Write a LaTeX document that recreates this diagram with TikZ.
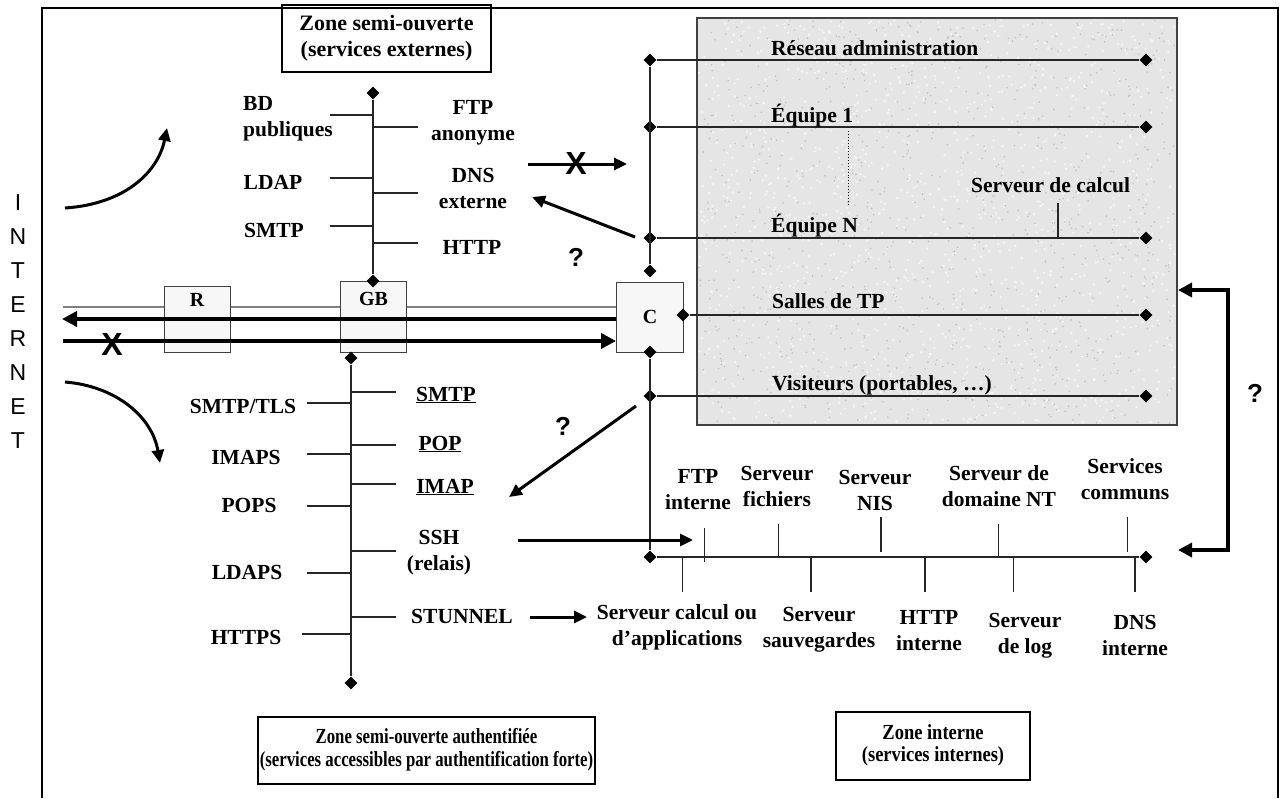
\documentclass[tikz,border=0pt]{standalone}
\usepackage{fontspec}
\setmainfont{Liberation Serif}
\setsansfont{Liberation Sans}
\usetikzlibrary{arrows.meta,shapes.geometric}
\begin{document}
\begin{tikzpicture}[x=1pt,y=-1pt,
  lbl/.style={font=\fontsize{21.5}{26}\selectfont\bfseries, align=center, inner sep=0pt},
  lbll/.style={font=\fontsize{21.5}{26}\selectfont\bfseries, align=left, inner sep=0pt},
  zonebox/.style={draw, line width=1.2pt, font=\fontsize{22}{26}\selectfont\bfseries, align=center, inner sep=0pt},
  zoneboxs/.style={draw, line width=1.2pt, font=\fontsize{21.5}{22.5}\selectfont\bfseries, inner sep=0pt},
  dia/.style={diamond, fill=black, inner sep=0pt, minimum size=13pt},
  busline/.style={line width=1.1pt, black!85},
  bigarrow/.style={line width=3.6pt, -{Triangle[length=15pt,width=15pt]}},
  midarrow/.style={line width=3pt, -{Triangle[length=13pt,width=12pt]}},
  devbox/.style={draw=black!75, fill=black!3, line width=1pt, inner sep=0pt, font=\fontsize{20}{22}\selectfont\bfseries},
  qmark/.style={font=\sffamily\bfseries\fontsize{26}{26}\selectfont, inner sep=0pt},
  xmark/.style={font=\sffamily\bfseries\fontsize{32}{32}\selectfont, inner sep=0pt},
]
\useasboundingbox (0,0) rectangle (1285,798);
\fill[white] (0,0) rectangle (1285,798);

% outer frame
\draw[line width=1.3pt] (42,798) -- (42,8) -- (1278,8) -- (1278,798);

% INTERNET
\node[font=\sffamily\fontsize{23}{34}\selectfont, align=center, inner sep=0pt] (internet) at (18,322) {I\\N\\T\\E\\R\\N\\E\\T};

% textured internal box
\fill[black!10] (697,18) rectangle (1177,425);
\pgfmathsetseed{7}
\foreach \i in {1,...,1400} {
  \fill[white, opacity=0.55] ({697+2+rnd*476},{18+2+rnd*403}) circle (1.3pt);
}
\foreach \i in {1,...,1000} {
  \fill[black!40, opacity=0.45] ({697+2+rnd*476},{18+2+rnd*403}) circle (0.9pt);
}
\draw[black!75, line width=1.2pt] (697,18) rectangle (1177,425);

% zone boxes
\node[zonebox, minimum width=209pt, minimum height=67pt] (zext) at (386.5,38.5) {Zone semi-ouverte\\(services externes)};
\node[zoneboxs, minimum width=337pt, minimum height=67pt] (zauth) at (426.5,750.5)
  {\scalebox{0.78}[1]{\begin{tabular}{@{}c@{}}Zone semi-ouverte authentifiée\\(services accessibles par authentification forte)\end{tabular}}};
\node[zoneboxs, minimum width=194pt, minimum height=68pt] (zint) at (933,746)
  {\scalebox{0.86}[1]{\begin{tabular}{@{}c@{}}Zone interne\\(services internes)\end{tabular}}};

% main backbone (gray line behind boxes)
\coordinate (inG) at (63,307);
\draw[black!50, line width=2pt] (inG) -- (617,307);

% devices
\node[devbox, minimum width=66pt, minimum height=66pt] (r) at (197,319) {};
\node[font=\fontsize{20}{22}\selectfont\bfseries] (rlbl) at (197,300) {R};
\node[devbox, minimum width=66pt, minimum height=71pt] (gb) at (373.5,316.5) {};
\node[font=\fontsize{20}{22}\selectfont\bfseries] (gblbl) at (373.5,299) {GB};
\node[devbox, minimum width=67pt, minimum height=70pt] (c) at (650,317) {C};

% thick arrows across
\coordinate (inL) at (62,319);
\coordinate (inR) at (63,341);
\draw[bigarrow] (c.west |- inL) -- (inL);
\draw[bigarrow] (inR) -- (c.west |- inR);
\node[xmark] (x1) at (112,344) {X};

% curved arrows from INTERNET
\coordinate (cu1) at (65,208);
\coordinate (cu2) at (167,128);
\draw[midarrow] (cu1) .. controls (125,204) and (158,172) .. (cu2);
\coordinate (cd1) at (65,382);
\coordinate (cd2) at (160,463);
\draw[midarrow] (cd1) .. controls (115,386) and (152,416) .. (cd2);

% ---------- external zone bus ----------
\node[dia] (et) at (373,93) {};
\node[dia] (eb) at (373,281) {};
\draw[busline] (et) -- (eb);
\foreach \y in {115,178,226} { \draw[busline] (330,\y) -- (373,\y); }
\foreach \y in {127,193,243} { \draw[busline] (373,\y) -- (418,\y); }
\node[lbll, anchor=west] (bd) at (243,119) {BD\\publiques};
\node[lbl] (ldap) at (273,182) {LDAP};
\node[lbl] (smtpe) at (274,230) {SMTP};
\node[lbl] (ftpa) at (473,123) {FTP\\anonyme};
\node[lbl] (dnse) at (473,188) {DNS\\externe};
\node[lbl] (httpe) at (472,247) {HTTP};

% ---------- authenticated zone bus ----------
\node[dia] (at) at (351,358) {};
\node[dia] (ab) at (351,683) {};
\draw[busline] (at) -- (ab);
\foreach \y in {403,454,506,573} { \draw[busline] (307,\y) -- (351,\y); }
\draw[busline] (302,634) -- (351,634);
\foreach \y in {392,445,484,551,617} { \draw[busline] (351,\y) -- (396,\y); }
\node[lbl] (smtptls) at (243,406) {SMTP/TLS};
\node[lbl] (imaps) at (246,457) {IMAPS};
\node[lbl] (pops) at (249,505) {POPS};
\node[lbl] (ldaps) at (247,572) {LDAPS};
\node[lbl] (https) at (246,637) {HTTPS};
\node[lbl] (smtpa) at (446,395) {\underline{SMTP}};
\node[lbl] (popa) at (440,444) {\underline{POP}};
\node[lbl] (imapa) at (445,487) {\underline{IMAP}};
\node[lbl] (ssh) at (439,553) {SSH\\(relais)};
\node[lbl] (stunnel) at (462,616) {STUNNEL};

% ---------- internal networks (C bus) ----------
\node[dia] (c1) at (650,60) {};
\node[dia] (c2) at (650,127) {};
\node[dia] (c3) at (650,238) {};
\node[dia] (c4) at (650,271) {};
\node[dia] (cr) at (683,315) {};
\node[dia] (cb) at (650,352) {};
\node[dia] (c5) at (650,396) {};
\node[dia] (c6) at (650,557) {};
\draw[busline] (c1) -- (c4);
\draw[busline] (cb) -- (c6);
\node[dia] (d1) at (1146,60) {};
\node[dia] (d2) at (1146,127) {};
\node[dia] (d3) at (1146,238) {};
\node[dia] (d4) at (1146,315) {};
\node[dia] (d5) at (1146,396) {};
\node[dia] (d6) at (1146,557) {};
\draw[busline] (c1) -- (d1);
\draw[busline] (c2) -- (d2);
\draw[busline] (c3) -- (d3);
\draw[busline] (cr) -- (d4);
\draw[busline] (c5) -- (d5);
\draw[busline] (c6) -- (d6);
\draw[line width=0.9pt, dotted] (848,131) -- (848,205);
\draw[busline] (1058,203) -- (1058,238);

\node[lbl, anchor=base west] (radm) at (771,55) {Réseau administration};
\node[lbl, anchor=base west] (eq1) at (771,122) {Équipe 1};
\node[lbl, anchor=base west] (scal) at (971,192) {Serveur de calcul};
\node[lbl, anchor=base west] (eqn) at (771,232) {Équipe N};
\node[lbl, anchor=base west] (stp) at (772,308) {Salles de TP};
\node[lbl, anchor=base west] (vis) at (772,390) {Visiteurs (portables, …)};

% internal services bus stubs
\foreach \x/\a/\b in {704.5/528/562, 778.7/524/557, 881/517/552, 998.7/524/557, 1127.8/517/552} {
  \draw[busline] (\x,\a) -- (\x,\b);
}
\foreach \x in {682.7, 811, 925, 1013.5, 1135} {
  \draw[busline] (\x,557) -- (\x,592);
}
\node[lbl] (ftpi) at (698,490) {FTP\\interne};
\node[lbl] (sfich) at (777,486) {Serveur\\fichiers};
\node[lbl] (snis) at (875,490) {Serveur\\NIS};
\node[lbl] (sdom) at (999,486) {Serveur de\\domaine NT};
\node[lbl] (scom) at (1125,479) {Services\\communs};
\node[lbl] (scalc) at (677,627) {Serveur calcul ou\\d’applications};
\node[lbl] (ssauv) at (819,630) {Serveur\\sauvegardes};
\node[lbl] (httpi) at (929,631) {HTTP\\interne};
\node[lbl] (slog) at (1025,636) {Serveur\\de log};
\node[lbl] (dnsi) at (1135,635) {DNS\\interne};

% ---------- flow arrows ----------
\coordinate (fx1) at (528,164);
\coordinate (fx2) at (627,164);
\draw[midarrow] (fx1) -- (fx2);
\node[xmark] (x2) at (576,163) {X};

\coordinate (dn1) at (635,237);
\coordinate (dn2) at (532,197);
\draw[midarrow] (dn1) -- (dn2);
\node[qmark] (q1) at (576,257) {?};

\coordinate (im1) at (636,406);
\coordinate (im2) at (509,497);
\draw[midarrow] (im1) -- (im2);
\node[qmark] (q2) at (563,426) {?};

\coordinate (ss1) at (518,540);
\coordinate (ss2) at (693,540);
\draw[midarrow] (ss1) -- (ss2);

\coordinate (st1) at (530,617);
\coordinate (st2) at (587,617);
\draw[midarrow] (st1) -- (st2);

\coordinate (br1) at (1178,290);
\coordinate (br2) at (1178,550);
\draw[line width=3.6pt, {Triangle[length=14pt,width=14pt]}-{Triangle[length=14pt,width=14pt]}] (br1) -- (1228,290) -- (1228,550) -- (br2);
\node[qmark] (q3) at (1255,393) {?};

\end{tikzpicture}
\end{document}
